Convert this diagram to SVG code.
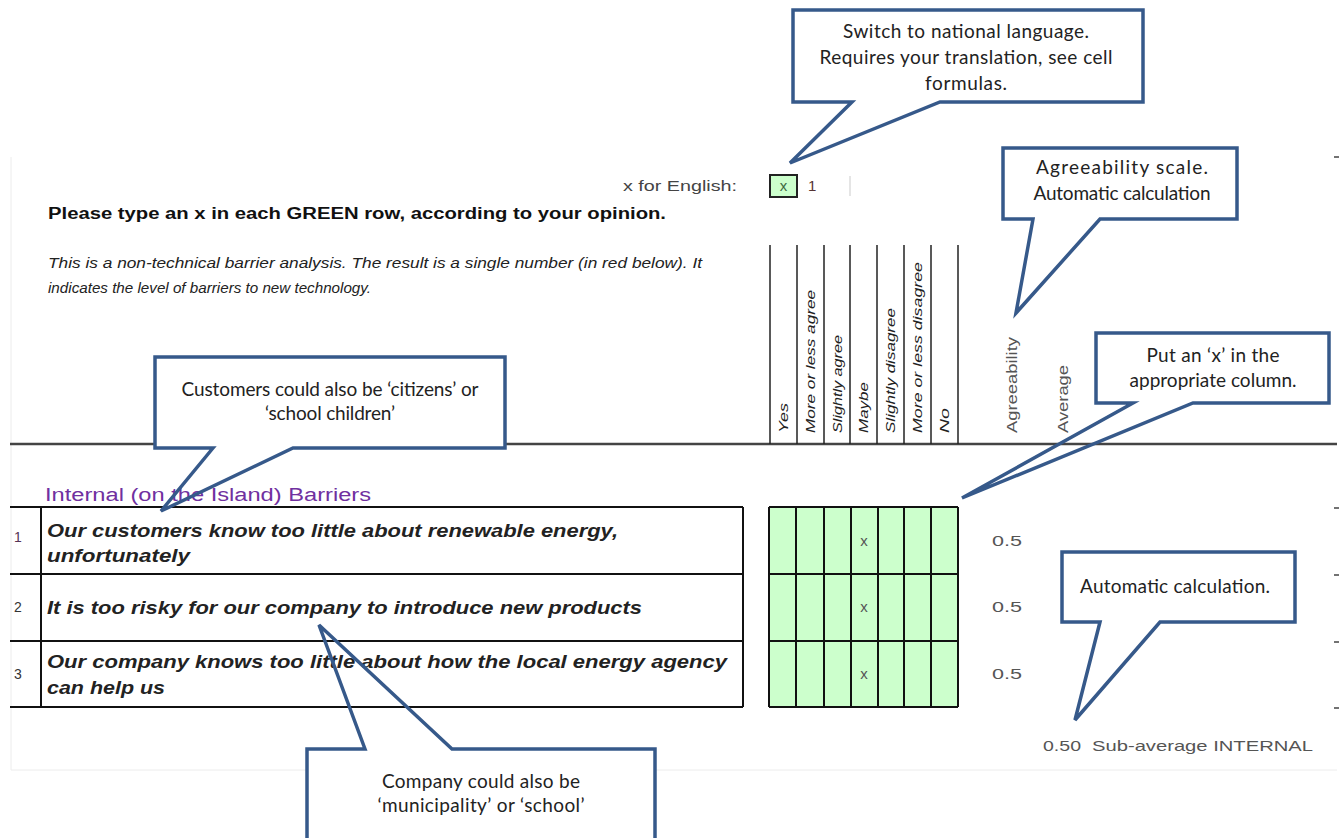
<svg xmlns="http://www.w3.org/2000/svg" width="1341" height="838" viewBox="0 0 1341 838">
<style>
.sheet{font-family:"Liberation Sans",Arial,sans-serif}
.co{font-family:Lato,"Liberation Sans",sans-serif;font-size:19px;fill:#222;text-anchor:middle}
.cobox{fill:#fff;stroke:none}
.coline{fill:none;stroke:#36598a;stroke-width:3.5;stroke-linejoin:miter}
.row{font-family:"Liberation Sans",Arial,sans-serif;font-size:18px;font-weight:bold;font-style:italic;fill:#222}
.hdr{font-family:"Liberation Sans",Arial,sans-serif;font-size:13px;font-style:italic;fill:#222}
.num{font-family:"Liberation Sans",Arial,sans-serif;font-size:15px;fill:#555}
.grid{stroke:#111;stroke-width:2;fill:none}
</style>
<rect width="1341" height="838" fill="#fff"/>
<g id="frame">
<path d="M11,157 V770 H1337" fill="none" stroke="#ececec" stroke-width="1"/>
<g stroke="#444" stroke-width="1.5">
<line x1="1334" y1="157" x2="1339" y2="157"/>
<line x1="1334" y1="508" x2="1339" y2="508"/>
<line x1="1334" y1="575" x2="1339" y2="575"/>
<line x1="1334" y1="642" x2="1339" y2="642"/>
<line x1="1334" y1="708" x2="1339" y2="708"/>
</g>
<line x1="10" y1="444" x2="1337" y2="444" stroke="#444" stroke-width="2.5"/>
</g>
<g id="language-switch" class="sheet">
<text x="623" y="191" font-size="15" fill="#444" textLength="114" lengthAdjust="spacingAndGlyphs">x for English:</text>
<rect x="770" y="175" width="27" height="22" fill="#ccffcc" stroke="#222" stroke-width="2"/>
<text x="783.5" y="191" font-size="15" fill="#3f6a3f" text-anchor="middle">x</text>
<text x="808" y="191" font-size="15" fill="#533">1</text>
<line x1="850" y1="176" x2="850" y2="196" stroke="#ddd" stroke-width="1.5"/>
</g>
<g id="intro" class="sheet">
<text x="48" y="219" font-size="16" font-weight="bold" fill="#111" textLength="618" lengthAdjust="spacingAndGlyphs">Please type an x in each GREEN row, according to your opinion.</text>
<text x="48" y="268" font-size="14" font-style="italic" fill="#222" textLength="654" lengthAdjust="spacingAndGlyphs">This is a non-technical barrier analysis. The result is a single number (in red below). It</text>
<text x="48" y="293" font-size="14" font-style="italic" fill="#222" textLength="323" lengthAdjust="spacingAndGlyphs">indicates the level of barriers to new technology.</text>
</g>
<g id="column-headers">
<g stroke="#222" stroke-width="1.5">
<line x1="770" y1="245" x2="770" y2="444"/>
<line x1="797" y1="245" x2="797" y2="444"/>
<line x1="824" y1="245" x2="824" y2="444"/>
<line x1="850" y1="245" x2="850" y2="444"/>
<line x1="877" y1="245" x2="877" y2="444"/>
<line x1="904" y1="245" x2="904" y2="444"/>
<line x1="931" y1="245" x2="931" y2="444"/>
<line x1="958" y1="245" x2="958" y2="444"/>
</g>
<text class="hdr" transform="translate(788,433) rotate(-90)" textLength="30" lengthAdjust="spacingAndGlyphs">Yes</text>
<text class="hdr" transform="translate(815,433) rotate(-90)" textLength="143" lengthAdjust="spacingAndGlyphs">More or less agree</text>
<text class="hdr" transform="translate(841.5,433) rotate(-90)" textLength="98" lengthAdjust="spacingAndGlyphs">Slightly agree</text>
<text class="hdr" transform="translate(868,433) rotate(-90)" textLength="51" lengthAdjust="spacingAndGlyphs">Maybe</text>
<text class="hdr" transform="translate(895,433) rotate(-90)" textLength="125" lengthAdjust="spacingAndGlyphs">Slightly disagree</text>
<text class="hdr" transform="translate(922,433) rotate(-90)" textLength="171" lengthAdjust="spacingAndGlyphs">More or less disagree</text>
<text class="hdr" transform="translate(949,433) rotate(-90)" textLength="25" lengthAdjust="spacingAndGlyphs">No</text>
<text class="num" transform="translate(1017,433) rotate(-90)" font-size="14" fill="#666" textLength="96" lengthAdjust="spacingAndGlyphs">Agreeability</text>
<text class="num" transform="translate(1068,433) rotate(-90)" font-size="14" fill="#666" textLength="68" lengthAdjust="spacingAndGlyphs">Average</text>
</g>
<g id="barrier-table">
<text class="sheet" x="45" y="501" font-size="18" fill="#7030a0" textLength="326" lengthAdjust="spacingAndGlyphs">Internal (on the Island) Barriers</text>
<path class="grid" d="M10,507 H743 M10,574 H743 M10,641 H743 M10,707 H743 M41,507 V707 M743,507 V707"/>
<text class="sheet" x="14" y="542" font-size="14" fill="#553355">1</text>
<text class="sheet" x="14" y="612" font-size="14" fill="#333">2</text>
<text class="sheet" x="14" y="679" font-size="14" fill="#333">3</text>
<text class="row" x="47" y="537" textLength="571" lengthAdjust="spacingAndGlyphs">Our customers know too little about renewable energy,</text>
<text class="row" x="47" y="562" textLength="143" lengthAdjust="spacingAndGlyphs">unfortunately</text>
<text class="row" x="47" y="614" textLength="595" lengthAdjust="spacingAndGlyphs">It is too risky for our company to introduce new products</text>
<text class="row" x="47" y="668" textLength="680" lengthAdjust="spacingAndGlyphs">Our company knows too little about how the local energy agency</text>
<text class="row" x="47" y="694" textLength="118" lengthAdjust="spacingAndGlyphs">can help us</text>
</g>
<g id="answer-grid">
<rect x="769" y="507" width="189" height="200" fill="#ccffcc"/>
<path class="grid" d="M769,507 H958 M769,574 H958 M769,641 H958 M769,707 H958 M769,507 V707 M796,507 V707 M824,507 V707 M851,507 V707 M878,507 V707 M904,507 V707 M931,507 V707 M958,507 V707"/>
<text class="num" x="864" y="546" text-anchor="middle" fill="#4d6b4d">x</text>
<text class="num" x="864" y="612" text-anchor="middle" fill="#4d6b4d">x</text>
<text class="num" x="864" y="679" text-anchor="middle" fill="#4d6b4d">x</text>
<text class="num" x="992" y="546" textLength="30" lengthAdjust="spacingAndGlyphs">0.5</text>
<text class="num" x="992" y="612" textLength="30" lengthAdjust="spacingAndGlyphs">0.5</text>
<text class="num" x="992" y="679" textLength="30" lengthAdjust="spacingAndGlyphs">0.5</text>
<text class="num" x="1043" y="751" textLength="38" lengthAdjust="spacingAndGlyphs">0.50</text>
<text class="num" x="1092" y="751" font-size="16" textLength="221" lengthAdjust="spacingAndGlyphs">Sub-average INTERNAL</text>
</g>
<g id="callout-language">
<rect class="cobox" x="793" y="10" width="350" height="92"/>
<path class="coline" d="M852,102 L790,163 L940,102 H1143 V10 H793 V102 Z"/>
<text class="co" x="966" y="38" textLength="246">Switch to national language.</text>
<text class="co" x="966" y="64" textLength="293">Requires your translation, see cell</text>
<text class="co" x="966" y="90" textLength="82">formulas.</text>
</g>
<g id="callout-agreeability">
<rect class="cobox" x="1003" y="148" width="234" height="71"/>
<path class="coline" d="M1033,219 L1016,313 L1100,219 H1237 V148 H1003 V219 Z"/>
<text class="co" x="1122" y="174" textLength="172">Agreeability scale.</text>
<text class="co" x="1122" y="200" textLength="177">Automatic calculation</text>
</g>
<g id="callout-column">
<rect class="cobox" x="1096" y="333" width="233" height="70"/>
<path class="coline" d="M1133,403 L962,498 L1193,403 H1329 V333 H1096 V403 Z"/>
<text class="co" x="1213" y="362" textLength="133">Put an ‘x’ in the</text>
<text class="co" x="1213" y="387" textLength="167">appropriate column.</text>
</g>
<g id="callout-customers">
<rect class="cobox" x="155" y="357" width="350" height="91"/>
<path class="coline" d="M213,448 L161,511 L293,448 H505 V357 H155 V448 Z"/>
<text class="co" x="330" y="396" textLength="297">Customers could also be ‘citizens’ or</text>
<text class="co" x="330" y="420" textLength="130">‘school children’</text>
</g>
<g id="callout-automatic">
<rect class="cobox" x="1062" y="552" width="233" height="70"/>
<path class="coline" d="M1100,622 L1075,720 L1160,622 H1295 V552 H1062 V622 Z"/>
<text class="co" x="1175" y="593" textLength="190">Automatic calculation.</text>
</g>
<g id="callout-company">
<rect class="cobox" x="307" y="749" width="348" height="100"/>
<path class="coline" d="M365,749 L319,625 L452,749 H655 V850 H307 V749 Z"/>
<text class="co" x="481" y="788" textLength="198">Company could also be</text>
<text class="co" x="481" y="812" textLength="207">‘municipality’ or ‘school’</text>
</g>
</svg>
